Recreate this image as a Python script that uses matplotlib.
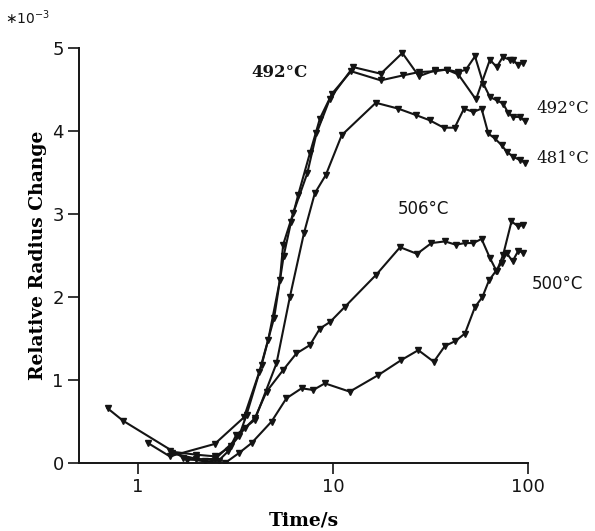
import numpy as np
import matplotlib.pyplot as plt

# relative radius change (x 1e-3) against time for each run
t_492a = [0.70, 0.84, 1.78, 2.5, 3.3, 3.61, 4.31, 4.66, 5.35, 5.56, 6.26, 7.39, 8.24, 9.66,
          12.7, 17.6, 22.7, 27.6, 33.3, 38.3, 44.0, 48.1, 53.5, 59.0, 63.8, 69.1, 74.6,
          79.0, 84.0, 90.8, 96.3]
r_492a = [0.66, 0.51, 0.04, 0.05, 0.32, 0.58, 1.18, 1.48, 2.20, 2.63, 3.01, 3.49, 3.97, 4.39,
          4.77, 4.69, 4.94, 4.66, 4.73, 4.74, 4.71, 4.74, 4.90, 4.57, 4.41, 4.37, 4.33,
          4.22, 4.17, 4.17, 4.12]

t_492b = [1.13, 1.46, 2.48, 3.5, 4.2, 5.0, 5.6, 6.1, 6.64, 7.62, 8.58, 9.9, 12.4, 17.6, 22.9,
          27.6, 33.3, 38.3, 44.0, 54.1, 63.8, 69.1, 74.2, 80.8, 84.1, 88.8, 94.2]
r_492b = [0.24, 0.08, 0.23, 0.55, 1.10, 1.75, 2.50, 2.90, 3.23, 3.73, 4.15, 4.45, 4.72, 4.61,
          4.67, 4.71, 4.72, 4.74, 4.68, 4.38, 4.86, 4.77, 4.89, 4.86, 4.85, 4.80, 4.82]

t_481 = [1.5, 2.0, 2.6, 2.9, 3.2, 3.98, 5.14, 6.02, 7.11, 8.08, 9.2, 11.1, 16.6, 21.6, 26.8,
         31.3, 37.0, 42.1, 47.0, 52.5, 57.8, 62.6, 67.6, 73.2, 77.8, 84.1, 90.8, 96.3]
r_481 = [0.12, 0.05, 0.03, 0.14, 0.34, 0.52, 1.20, 2.00, 2.77, 3.25, 3.47, 3.95, 4.34, 4.27,
         4.19, 4.13, 4.04, 4.04, 4.27, 4.23, 4.27, 3.97, 3.91, 3.83, 3.75, 3.69, 3.65, 3.62]

t_506 = [1.46, 2.0, 2.5, 3.0, 3.54, 3.98, 4.57, 5.56, 6.5, 7.62, 8.58, 9.68, 11.5, 16.7, 22.1,
         27.0, 32.0, 37.5, 42.7, 47.5, 52.5, 57.8, 63.8, 69.1, 74.6, 82.3, 89.3, 94.4]
r_506 = [0.14, 0.10, 0.08, 0.20, 0.42, 0.54, 0.86, 1.12, 1.32, 1.42, 1.62, 1.70, 1.88, 2.27,
         2.60, 2.52, 2.65, 2.67, 2.63, 2.65, 2.65, 2.70, 2.47, 2.31, 2.51, 2.91, 2.85, 2.87]

t_500 = [1.7, 2.2, 2.8, 3.3, 3.83, 4.85, 5.78, 6.91, 7.93, 9.1, 12.2, 17.1, 22.4, 27.4, 32.9,
         37.5, 42.5, 47.5, 53.5, 58.4, 63.1, 68.3, 73.2, 77.8, 83.3, 89.3, 94.4]
r_500 = [0.06, 0.02, 0.00, 0.12, 0.24, 0.50, 0.78, 0.90, 0.88, 0.96, 0.86, 1.06, 1.24, 1.36,
         1.22, 1.41, 1.47, 1.56, 1.88, 2.00, 2.20, 2.31, 2.41, 2.53, 2.43, 2.56, 2.53]

series = [(t_492a, r_492a), (t_492b, r_492b), (t_481, r_481), (t_506, r_506), (t_500, r_500)]

fig = plt.figure(figsize=(5.95, 5.31), dpi=100)
ax = fig.add_axes([0.1328, 0.128, 0.7546, 0.7816])

for t, r in series:
    ax.plot(t, r, color='#141414', lw=1.5, marker='v', ms=4.5,
            mfc='#141414', mec='#141414')

ax.set_xscale('log')
ax.set_xlim(0.5, 100)
ax.set_ylim(0, 5)
ax.set_xticks([1, 10, 100])
ax.set_xticklabels(['1', '10', '100'])
ax.xaxis.set_minor_locator(plt.NullLocator())
ax.set_yticks([0, 1, 2, 3, 4, 5])

for s in ['top', 'right']:
    ax.spines[s].set_visible(False)
for s in ['left', 'bottom']:
    ax.spines[s].set_linewidth(1.4)
    ax.spines[s].set_color('#141414')
ax.tick_params(length=8, width=1.2, labelsize=13, colors='#141414', pad=3)

ax.set_xlabel('Time/s', family='DejaVu Serif', fontweight='bold', fontsize=13.5,
              labelpad=11)
ax.set_ylabel('Relative Radius Change', family='DejaVu Serif', fontweight='bold',
              fontsize=13.5, labelpad=4)

fig.text(0.008, 0.955, r'$\ast10^{-3}$', fontsize=10, color='#141414')

lab = dict(fontsize=12, color='#141414', clip_on=False)
ax.text(3.84, 4.65, '492°C', family='DejaVu Serif', fontweight='bold', **lab)
ax.text(110, 4.22, '492°C', family='DejaVu Serif', **lab)
ax.text(110, 3.62, '481°C', family='DejaVu Serif', **lab)
ax.text(21.5, 3.0, '506°C', family='DejaVu Sans', **lab)
ax.text(105, 2.1, '500°C', family='DejaVu Sans', **lab)

fig.savefig('out.png', dpi=100)
